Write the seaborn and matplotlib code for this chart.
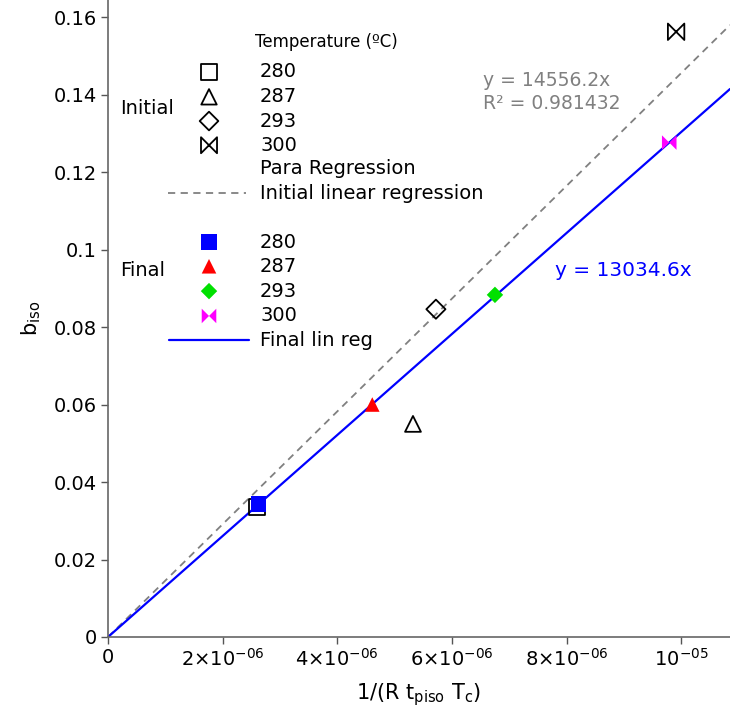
import matplotlib
matplotlib.use("Agg")
import matplotlib.pyplot as plt
from matplotlib.path import Path
import seaborn as sns

# Temperatures (degC) and measured points
temps = ["280", "287", "293", "300"]
init_x = [2.60e-6, 5.32e-6, 5.72e-6, 9.91e-6]
init_y = [0.0335, 0.0550, 0.0846, 0.1562]
final_x = [2.63e-6, 4.61e-6, 6.75e-6, 9.79e-6]
final_y = [0.0343, 0.0600, 0.0883, 0.1276]
final_colors = ["#0000ff", "#ff0000", "#00e000", "#ff00ff"]

# Regression slopes
slope_initial = 14556.2
r2_initial = 0.981432
slope_final = 13034.6

x_ticks = [0, 2e-6, 4e-6, 6e-6, 8e-6, 1e-5]
x_ticklabels = ["0", r"$2{\times}10^{-06}$", r"$4{\times}10^{-06}$",
                r"$6{\times}10^{-06}$", r"$8{\times}10^{-06}$", r"$10^{-05}$"]
y_ticks = [0, 0.02, 0.04, 0.06, 0.08, 0.10, 0.12, 0.14, 0.16]
y_ticklabels = ["0", "0.02", "0.04", "0.06", "0.08", "0.1", "0.12", "0.14", "0.16"]

sns.set_theme(style="ticks")
plt.rcParams["font.family"] = ["DejaVu Sans"]
plt.rcParams["text.color"] = "black"
plt.rcParams["axes.labelcolor"] = "black"
plt.rcParams["xtick.labelcolor"] = "black"
plt.rcParams["ytick.labelcolor"] = "black"

bowtie = Path([(-1, -1), (-1, 1), (1, -1), (1, 1), (-1, -1)],
              [Path.MOVETO, Path.LINETO, Path.LINETO, Path.LINETO, Path.CLOSEPOLY])

init_markers = ["s", "^", "D", bowtie]
init_sizes = [140, 130, 95, 140]
final_markers = ["s", "^", "D", bowtie]
final_sizes = [120, 110, 70, 110]

fig = plt.figure(figsize=(7.30, 7.17), dpi=100)
ax = fig.add_axes([108 / 730, 80 / 717, 622 / 730, 637 / 717])

xmax = 10.85e-6
ymax = 0.1644
ax.set_xlim(0, xmax)
ax.set_ylim(0, ymax)

# Regression lines through the origin
ax.axline((0, 0), slope=slope_initial, color="#808080", lw=1.3,
          ls=(0, (4, 3)), zorder=2)
ax.axline((0, 0), slope=slope_final, color="#0000ff", lw=1.6, zorder=2)

# Initial (open) markers
for i in range(len(temps)):
    sns.scatterplot(x=[init_x[i]], y=[init_y[i]], marker=init_markers[i],
                    s=init_sizes[i], facecolor="none", edgecolor="black",
                    linewidth=1.3, ax=ax, zorder=3)
# Final (filled) markers
for i in range(len(temps)):
    sns.scatterplot(x=[final_x[i]], y=[final_y[i]], marker=final_markers[i],
                    s=final_sizes[i], color=final_colors[i], edgecolor="none",
                    ax=ax, zorder=4)

# Equations
ax.text(0.603, 0.874, f"y = {slope_initial}x", transform=ax.transAxes,
        color="#808080", fontsize=13.5, va="center", ha="left")
ax.text(0.603, 0.838, f"R² = {r2_initial}", transform=ax.transAxes,
        color="#808080", fontsize=13.5, va="center", ha="left")
ax.text(0.7186, 0.576, f"y = {slope_final}x", transform=ax.transAxes,
        color="#0000ff", fontsize=14.5, va="center", ha="left")

# Legend drawn inside the axes
T = ax.transAxes
leg_fs = 14
mx, tx = 0.1624, 0.2444
ax.text(0.2363, 0.934, "Temperature (ºC)", transform=T, fontsize=12,
        va="center", ha="left")
init_rows = [0.887, 0.848, 0.810, 0.772]
final_rows = [0.620, 0.582, 0.543, 0.504]
for i, t in enumerate(temps):
    ax.scatter([mx], [init_rows[i]], transform=T, marker=init_markers[i],
               s=init_sizes[i] * 0.95, facecolor="none", edgecolor="black",
               linewidth=1.3, clip_on=False, zorder=5)
    ax.text(tx, init_rows[i], t, transform=T, fontsize=leg_fs,
            va="center", ha="left")
    ax.scatter([mx], [final_rows[i]], transform=T, marker=final_markers[i],
               s=final_sizes[i], color=final_colors[i], edgecolor="none",
               clip_on=False, zorder=5)
    ax.text(tx, final_rows[i], t, transform=T, fontsize=leg_fs,
            va="center", ha="left")
ax.text(0.0193, 0.829, "Initial", transform=T, fontsize=leg_fs,
        va="center", ha="left")
ax.text(0.0193, 0.5746, "Final", transform=T, fontsize=leg_fs,
        va="center", ha="left")
ax.text(tx, 0.7347, "Para Regression", transform=T, fontsize=leg_fs,
        va="center", ha="left")
ax.plot([0.0965, 0.2219], [0.697, 0.697], transform=T, color="#808080",
        lw=1.3, ls=(0, (4, 3)))
ax.text(tx, 0.697, "Initial linear regression", transform=T, fontsize=leg_fs,
        va="center", ha="left")
ax.plot([0.098, 0.2267], [0.466, 0.466], transform=T, color="#0000ff", lw=1.6)
ax.text(tx, 0.466, "Final lin reg", transform=T, fontsize=leg_fs,
        va="center", ha="left")

# Axes styling
ax.set_xticks(x_ticks)
ax.set_xticklabels(x_ticklabels, fontsize=14)
ax.set_yticks(y_ticks)
ax.set_yticklabels(y_ticklabels, fontsize=14)
ax.tick_params(direction="out", length=5, width=1, color="#555555", pad=3)
sns.despine(ax=ax)
for s in ("left", "bottom"):
    ax.spines[s].set_color("#666666")
    ax.spines[s].set_linewidth(1.2)
ax.set_xlabel(r"1/(R t$_\mathregular{piso}$ T$_\mathregular{c}$)", fontsize=15,
              labelpad=8)
ax.set_ylabel(r"b$_\mathregular{iso}$", fontsize=15, labelpad=8)

fig.savefig("out.png", dpi=100)
